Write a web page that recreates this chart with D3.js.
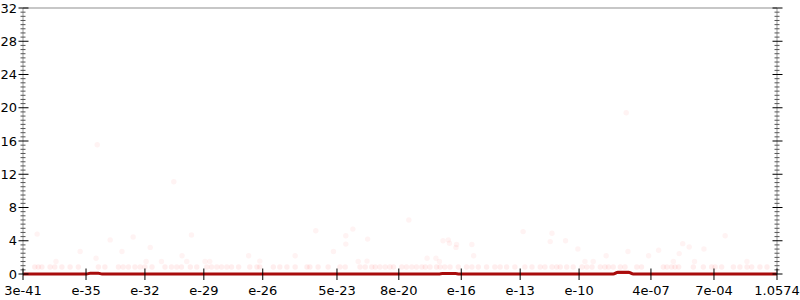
<!DOCTYPE html>
<html>
<head>
<meta charset="utf-8">
<script src="https://cdn.jsdelivr.net/npm/d3@7"></script>
<style>
  body { margin: 0; background: #fff; }
  svg { display: block; font-family: "DejaVu Sans", sans-serif; }
</style>
</head>
<body>
<svg class="chart" width="800" height="300"></svg>
<script>
// x axis is in bin units (0..128), labels sit at uneven bins
var binCount = 128;
var tickBins   = [0, 10.7, 20.7, 30.7, 40.7, 53.3, 63.8, 74.4, 84.4, 94.4, 106.6, 117.3, 128];
var tickLabels = ["3e-41", "e-35", "e-32", "e-29", "e-26", "5e-23", "8e-20", "e-16", "e-13", "e-10", "4e-07", "7e-04", "1.0574"];

// faint samples: bin positions and values
var dotBins = [
  2.0, 2.6, 3.2, 4.6, 5.4, 6.6, 8.0, 9.4, 12.8, 13.9, 16.2, 17.0, 17.9, 19.0, 19.9, 20.7, 21.9,
  24.1, 25.2, 26.1, 26.9, 28.4, 29.5, 31.2, 32.0, 32.9, 33.7, 34.6, 35.4, 36.6, 38.5, 39.7, 40.2,
  42.5, 43.6, 44.8, 46.2, 48.2, 48.7, 50.1, 51.8, 53.8, 54.7, 57.2, 58.1, 59.2, 59.8, 60.6, 61.5,
  62.3, 62.9, 64.3, 65.1, 66.0, 66.8, 67.7, 68.3, 69.1, 70.2, 70.8, 71.6, 72.5, 73.9, 75.3, 76.2,
  77.3, 78.7, 80.1, 81.0, 82.1, 83.5, 85.2, 86.4, 87.8, 88.6, 89.8, 90.6, 91.2, 92.3, 93.4, 94.9,
  95.7, 96.6, 98.0, 98.8, 99.4, 100.2, 101.4, 102.2, 104.2, 105.0, 108.7, 109.3, 110.1, 110.7,
  111.3, 113.8, 115.5, 116.9, 117.5, 118.6, 120.6, 121.7, 122.9, 123.7, 125.1, 126.3,
  2.4, 9.7, 5.6, 12.4, 14.8, 16.8, 18.7, 21.6, 20.9, 23.5, 27.0, 27.8, 28.6, 30.9, 31.7, 38.3,
  40.2, 46.2, 49.7, 56.0, 54.8, 54.8, 52.7, 58.5, 56.9, 58.4,
  12.6, 25.6, 102.4, 65.5,
  71.3, 72.2, 72.4, 73.6, 73.5, 76.2, 76.5, 68.6, 70.1, 70.7, 84.9, 89.8, 89.5, 92.1, 94.2, 95.4,
  96.8, 99.0, 102.7, 106.2, 107.9, 112.0, 111.4, 113.1, 115.6, 110.4, 114.0, 119.2, 122.9
];
var dotValues = [
  0.85, 0.85, 0.85, 0.85, 0.85, 0.85, 0.85, 0.85, 0.85, 0.85, 0.85, 0.85, 0.85, 0.85, 0.85, 0.85, 0.85,
  0.85, 0.85, 0.85, 0.85, 0.85, 0.85, 0.85, 0.85, 0.85, 0.85, 0.85, 0.85, 0.85, 0.85, 0.85, 0.85,
  0.85, 0.85, 0.85, 0.85, 0.85, 0.85, 0.85, 0.85, 0.85, 0.85, 0.85, 0.85, 0.85, 0.85, 0.85, 0.85,
  0.85, 0.85, 0.85, 0.85, 0.85, 0.85, 0.85, 0.85, 0.85, 0.85, 0.85, 0.85, 0.85, 0.85, 0.85, 0.85,
  0.85, 0.85, 0.85, 0.85, 0.85, 0.85, 0.85, 0.85, 0.85, 0.85, 0.85, 0.85, 0.85, 0.85, 0.85, 0.85,
  0.85, 0.85, 0.85, 0.85, 0.85, 0.85, 0.85, 0.85, 0.85, 0.85, 0.85, 0.85, 0.85, 0.85,
  0.85, 0.85, 0.85, 0.85, 0.85, 0.85, 0.85, 0.85, 0.85, 0.85, 0.85, 0.85,
  4.8, 2.7, 1.5, 1.9, 4.1, 2.7, 4.45, 3.2, 1.5, 1.5, 2.2, 1.5, 4.7, 1.5, 1.5, 2.2,
  1.55, 2.2, 5.2, 5.4, 4.6, 3.6, 2.7, 4.2, 1.5, 1.55,
  15.55, 11.1, 19.4, 6.5,
  4.0, 4.1, 3.7, 3.55, 3.2, 3.55, 2.2, 1.9, 1.9, 1.5, 5.1, 4.9, 3.9, 4.0, 3.0, 1.5,
  1.5, 2.2, 2.7, 2.2, 2.85, 3.65, 2.45, 3.25, 3.0, 1.5, 1.5, 4.6, 1.5
];

// the thick red trace along the bottom
var lineBins   = [0, 10.8, 11.4, 12.8, 13.4, 40, 70.6, 71.2, 73.4, 74, 100.2, 101, 102.8, 103.6, 128];
var lineValues = [0, 0, 0.08, 0.08, 0, 0, 0, 0.05, 0.05, 0, 0, 0.22, 0.22, 0, 0];

var yMax = 32, yMajor = 4, yMinor = 0.5;

var svg = d3.select(".chart");
var plotLeft = 23, plotRight = 777, plotTop = 8, plotBottom = 274;

var x = d3.scaleLinear().domain([0, binCount]).range([plotLeft, plotRight]);
var y = d3.scaleLinear().domain([0, yMax]).range([plotBottom, plotTop]);

var dots = dotBins.map(function(b, i){ return {bin: b, value: dotValues[i]}; });
var trace = lineBins.map(function(b, i){ return {bin: b, value: lineValues[i]}; });

// top border
svg.append("line")
  .attr("x1", plotLeft).attr("x2", plotRight)
  .attr("y1", y(yMax)).attr("y2", y(yMax))
  .attr("stroke", "#b4b4b4").attr("stroke-width", 1.5);

// samples
svg.append("g").selectAll("circle").data(dots).enter()
  .append("circle")
  .attr("cx", function(d){ return x(d.bin); })
  .attr("cy", function(d){ return y(d.value); })
  .attr("r", 2.7)
  .attr("fill", "#ff2020")
  .attr("fill-opacity", function(d){ return d.value < 1 ? 0.08 : 0.055; });

// trace
svg.append("path").datum(trace)
  .attr("fill", "#dd2a2a")
  .attr("d", d3.area()
    .x(function(d){ return x(d.bin); })
    .y0(y(0))
    .y1(function(d){ return y(d.value); })
    .curve(d3.curveMonotoneX));
svg.append("path").datum(trace)
  .attr("fill", "none")
  .attr("stroke", "#a80c0c")
  .attr("stroke-width", 3)
  .attr("d", d3.line()
    .x(function(d){ return x(d.bin); })
    .y(function(d){ return y(d.value); })
    .curve(d3.curveMonotoneX));

// y axes, both sides: major ticks cross the line, minor ticks smaller
var minorTicks = d3.range(0, yMax + 0.001, yMinor).filter(function(v){ return v % yMajor !== 0; });
var majorTicks = d3.range(0, yMax + 0.001, yMajor);

[plotLeft, plotRight].forEach(function(ax){
  var g = svg.append("g");
  g.append("line")
    .attr("x1", ax).attr("x2", ax)
    .attr("y1", y(0)).attr("y2", y(yMax))
    .attr("stroke", "#999");
  g.selectAll(".minor").data(minorTicks).enter()
    .append("line")
    .attr("x1", ax - 2.5).attr("x2", ax + 2.5)
    .attr("y1", function(d){ return y(d); })
    .attr("y2", function(d){ return y(d); })
    .attr("stroke", "#555");
  g.selectAll(".major").data(majorTicks).enter()
    .append("line")
    .attr("x1", ax - 4.5).attr("x2", ax + 5.5)
    .attr("y1", function(d){ return y(d); })
    .attr("y2", function(d){ return y(d); })
    .attr("stroke", "#000");
});

svg.append("g").selectAll("text").data(majorTicks).enter()
  .append("text")
  .attr("x", 17)
  .attr("y", function(d){ return y(d); })
  .attr("dy", "0.35em")
  .attr("text-anchor", "end")
  .attr("font-size", 13)
  .attr("fill", "#000")
  .text(function(d){ return d; });

// x ticks and labels
var xt = svg.append("g").selectAll("g").data(tickBins).enter()
  .append("g")
  .attr("transform", function(d){ return "translate(" + x(d) + ",0)"; });
xt.append("line")
  .attr("y1", plotBottom - 5.5).attr("y2", plotBottom + 6)
  .attr("stroke", "#000");
xt.append("text")
  .attr("y", 294.5)
  .attr("text-anchor", "middle")
  .attr("font-size", 13)
  .attr("fill", "#000")
  .text(function(d, i){ return tickLabels[i]; });
</script>
</body>
</html>
